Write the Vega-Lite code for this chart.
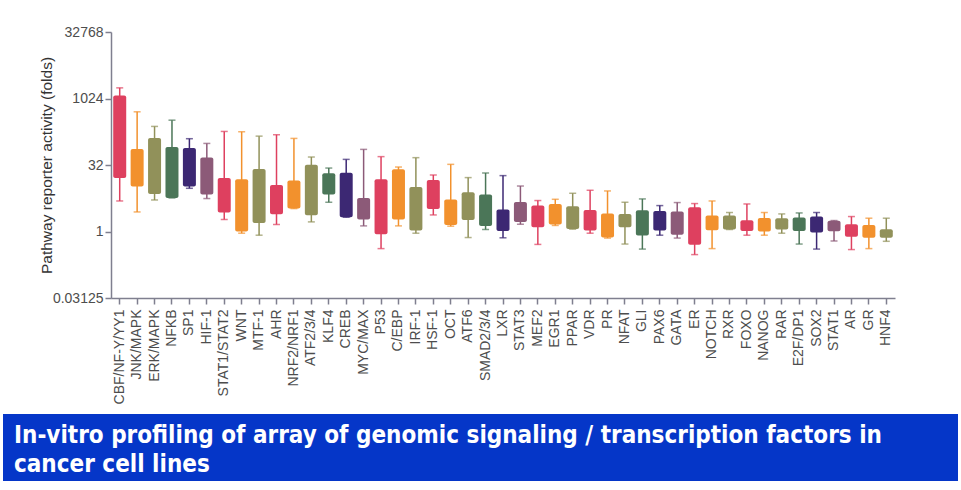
{
  "$schema": "https://vega.github.io/schema/vega-lite/v6.json",
  "padding": {"left": 3, "top": 25, "right": 3, "bottom": 10},
  "config": {"view": {"stroke": null}, "font": "Liberation Sans"},
  "datasets": {
    "boxes": [
      {"name": "CBF/NF-Y/YY1", "hi": 1783, "q3": 1199, "q1": 16.2, "lo": 4.91},
      {"name": "JNK/MAPK", "hi": 512, "q3": 73.3, "q1": 10.5, "lo": 2.77},
      {"name": "ERK/MAPK", "hi": 239, "q3": 130, "q1": 7.06, "lo": 5.17},
      {"name": "NFKB", "hi": 331, "q3": 81.3, "q1": 5.74, "lo": 5.74},
      {"name": "SP1", "hi": 126, "q3": 77.3, "q1": 10.5, "lo": 9.5},
      {"name": "HIF-1", "hi": 98.5, "q3": 47.6, "q1": 6.85, "lo": 5.57},
      {"name": "STAT1/STAT2", "hi": 184, "q3": 16.2, "q1": 2.69, "lo": 1.87},
      {"name": "WNT", "hi": 181, "q3": 15.2, "q1": 1.0, "lo": 0.915},
      {"name": "MTF-1", "hi": 144, "q3": 26, "q1": 1.56, "lo": 0.825},
      {"name": "AHR", "hi": 155, "q3": 11.3, "q1": 2.46, "lo": 1.44},
      {"name": "NRF2/NRF1", "hi": 128, "q3": 14.2, "q1": 3.3, "lo": 3.3},
      {"name": "ATF2/3/4", "hi": 48.5, "q3": 32.6, "q1": 2.34, "lo": 1.65},
      {"name": "KLF4", "hi": 27.3, "q3": 20.7, "q1": 6.85, "lo": 4.59},
      {"name": "CREB", "hi": 42.9, "q3": 21.5, "q1": 2.1, "lo": 2.1},
      {"name": "MYC/MAX", "hi": 72.2, "q3": 5.74, "q1": 1.87, "lo": 1.34},
      {"name": "P53", "hi": 49.5, "q3": 15.2, "q1": 0.87, "lo": 0.41},
      {"name": "C/EBP", "hi": 28.8, "q3": 25.5, "q1": 1.87, "lo": 1.34},
      {"name": "IRF-1", "hi": 46.9, "q3": 10.2, "q1": 1.05, "lo": 0.915},
      {"name": "HSF-1", "hi": 19.0, "q3": 14.6, "q1": 3.24, "lo": 2.37},
      {"name": "OCT", "hi": 33.1, "q3": 5.28, "q1": 1.41, "lo": 1.32},
      {"name": "ATF6", "hi": 16.6, "q3": 7.72, "q1": 1.83, "lo": 0.73},
      {"name": "SMAD2/3/4", "hi": 21.1, "q3": 6.85, "q1": 1.34, "lo": 1.11},
      {"name": "LXR", "hi": 18.4, "q3": 3.14, "q1": 1.03, "lo": 0.72},
      {"name": "STAT3", "hi": 10.7, "q3": 4.66, "q1": 1.65, "lo": 1.46},
      {"name": "MEF2", "hi": 5.02, "q3": 3.86, "q1": 1.25, "lo": 0.51},
      {"name": "EGR1", "hi": 5.36, "q3": 4.2, "q1": 1.44, "lo": 1.37},
      {"name": "PPAR", "hi": 7.33, "q3": 3.73, "q1": 1.14, "lo": 1.13},
      {"name": "VDR", "hi": 8.57, "q3": 3.07, "q1": 1.05, "lo": 0.915},
      {"name": "PR", "hi": 8.28, "q3": 2.55, "q1": 0.73, "lo": 0.71},
      {"name": "NFAT", "hi": 4.59, "q3": 2.5, "q1": 1.25, "lo": 0.52},
      {"name": "GLI", "hi": 5.46, "q3": 3.03, "q1": 0.81, "lo": 0.4},
      {"name": "PAX6", "hi": 3.86, "q3": 2.92, "q1": 1.05, "lo": 0.825},
      {"name": "GATA", "hi": 4.52, "q3": 2.83, "q1": 0.84, "lo": 0.71},
      {"name": "ER", "hi": 4.29, "q3": 3.54, "q1": 0.5, "lo": 0.3},
      {"name": "NOTCH", "hi": 4.91, "q3": 2.3, "q1": 1.07, "lo": 0.41},
      {"name": "RXR", "hi": 2.69, "q3": 2.3, "q1": 1.11, "lo": 1.11},
      {"name": "FOXO", "hi": 4.2, "q3": 1.8, "q1": 1.03, "lo": 0.825},
      {"name": "NANOG", "hi": 2.69, "q3": 2.03, "q1": 1.0, "lo": 0.825},
      {"name": "RAR", "hi": 2.5, "q3": 2.0, "q1": 1.11, "lo": 0.915},
      {"name": "E2F/DP1", "hi": 2.63, "q3": 2.07, "q1": 1.03, "lo": 0.52},
      {"name": "SOX2", "hi": 2.69, "q3": 2.18, "q1": 0.95, "lo": 0.4},
      {"name": "STAT1", "hi": 1.77, "q3": 1.74, "q1": 1.01, "lo": 0.61},
      {"name": "AR", "hi": 2.18, "q3": 1.46, "q1": 0.76, "lo": 0.39},
      {"name": "GR", "hi": 2.0, "q3": 1.41, "q1": 0.72, "lo": 0.41},
      {"name": "HNF4", "hi": 2.0, "q3": 1.13, "q1": 0.72, "lo": 0.6}
    ],
    "banner": [
      {"row": 1, "text": "In-vitro profiling of array of genomic signaling  / transcription factors in"},
      {"row": 2, "text": "cancer cell lines"}
    ]
  },
  "vconcat": [
    {
      "hconcat": [
        {
          "width": 108,
          "height": 266,
          "data": {"values": []},
          "mark": "point",
          "encoding": {}
        },
        {
          "width": 784,
          "height": 266,
          "data": {"name": "boxes"},
          "encoding": {
            "x": {
              "field": "name",
              "type": "nominal",
              "sort": null,
              "scale": {"paddingInner": 0, "paddingOuter": 0},
              "axis": {
                "title": null,
                "labelAngle": -90,
                "labelFontSize": 14,
                "labelColor": "#4d4d4d",
                "labelPadding": 5,
                "tickSize": 6,
                "tickColor": "#7f7f8f",
                "domainColor": "#7f7f8f",
                "domainWidth": 1.5,
                "tickWidth": 1.5
              }
            },
            "color": {
              "field": "name",
              "type": "nominal",
              "legend": null,
              "scale": {
                "domain": ["CBF/NF-Y/YY1", "JNK/MAPK", "ERK/MAPK", "NFKB", "SP1", "HIF-1", "STAT1/STAT2", "WNT", "MTF-1", "AHR", "NRF2/NRF1", "ATF2/3/4", "KLF4", "CREB", "MYC/MAX", "P53", "C/EBP", "IRF-1", "HSF-1", "OCT", "ATF6", "SMAD2/3/4", "LXR", "STAT3", "MEF2", "EGR1", "PPAR", "VDR", "PR", "NFAT", "GLI", "PAX6", "GATA", "ER", "NOTCH", "RXR", "FOXO", "NANOG", "RAR", "E2F/DP1", "SOX2", "STAT1", "AR", "GR", "HNF4"],
                "range": ["#de405f", "#f2912d", "#91915a", "#4b7658", "#3c2873", "#8c5a78", "#de405f", "#f2912d", "#91915a", "#de405f", "#f2912d", "#91915a", "#4b7658", "#3c2873", "#8c5a78", "#de405f", "#f2912d", "#91915a", "#de405f", "#f2912d", "#91915a", "#4b7658", "#3c2873", "#8c5a78", "#de405f", "#f2912d", "#91915a", "#de405f", "#f2912d", "#91915a", "#4b7658", "#3c2873", "#8c5a78", "#de405f", "#f2912d", "#91915a", "#de405f", "#f2912d", "#91915a", "#4b7658", "#3c2873", "#8c5a78", "#de405f", "#f2912d", "#91915a"]
              }
            }
          },
          "layer": [
            {
              "mark": {"type": "rule", "strokeWidth": 1.5},
              "encoding": {
                "y": {
                  "field": "lo",
                  "type": "quantitative",
                  "scale": {"type": "log", "base": 2, "domain": [0.03125, 32768], "nice": false},
                  "axis": {
                    "title": "Pathway reporter activity (folds)",
                    "titleFontSize": 15.5,
                    "titleFontWeight": "normal",
                    "titleColor": "#333333",
                    "titlePadding": -2,
                    "values": [0.03125, 1, 32, 1024, 32768],
                    "format": "~g",
                    "labelFontSize": 14,
                    "labelColor": "#4d4d4d",
                    "labelPadding": 2,
                    "tickSize": 6,
                    "tickColor": "#7f7f8f",
                    "domainColor": "#7f7f8f",
                    "domainWidth": 1.5,
                    "tickWidth": 1.5,
                    "grid": false
                  }
                },
                "y2": {"field": "hi"}
              }
            },
            {
              "mark": {"type": "tick", "size": 7, "thickness": 1.5},
              "encoding": {"y": {"field": "hi", "type": "quantitative"}}
            },
            {
              "mark": {"type": "tick", "size": 7, "thickness": 1.5},
              "encoding": {"y": {"field": "lo", "type": "quantitative"}}
            },
            {
              "mark": {"type": "bar", "size": 13, "cornerRadius": 2},
              "encoding": {
                "y": {"field": "q1", "type": "quantitative"},
                "y2": {"field": "q3"}
              }
            }
          ]
        }
      ],
      "spacing": 0,
      "bounds": "flush"
    },
    {
      "width": 955,
      "height": 67,
      "view": {"fill": "#0536c8", "stroke": null},
      "data": {"name": "banner"},
      "mark": {
        "type": "text",
        "align": "left",
        "baseline": "alphabetic",
        "dx": 11,
        "dy": 10,
        "color": "white",
        "font": "Liberation Sans Narrow, DejaVu Sans Condensed, sans-serif",
        "fontWeight": "bold",
        "fontSize": 24
      },
      "encoding": {
        "x": {"datum": 0, "type": "quantitative", "scale": {"domain": [0, 1]}, "axis": null},
        "y": {"field": "row", "type": "ordinal", "axis": null, "scale": {"type": "point", "padding": 0.617}},
        "text": {"field": "text"}
      }
    }
  ],
  "spacing": 10
}
